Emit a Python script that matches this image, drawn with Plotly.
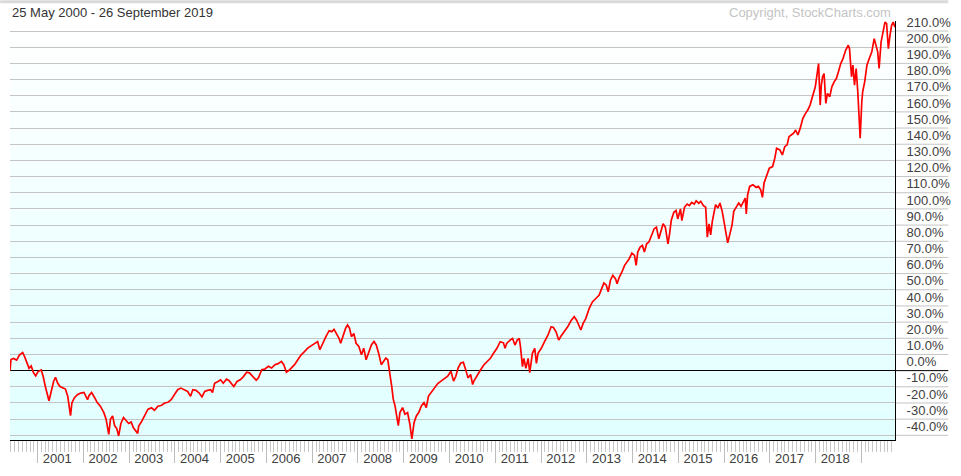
import plotly.graph_objects as go

# ---------------- data ----------------
dates = [
    "2000-05-25", "2000-06-02", "2000-06-21", "2000-07-17", "2000-08-08", "2000-09-03", "2000-09-21",
    "2000-10-08", "2000-10-24", "2000-11-10", "2000-11-28", "2000-12-16",
    "2001-01-04", "2001-01-29", "2001-02-13", "2001-03-03", "2001-03-14", "2001-04-01", "2001-04-19",
    "2001-05-08", "2001-05-23", "2001-06-10", "2001-06-28", "2001-07-19", "2001-08-10", "2001-08-29",
    "2001-09-20", "2001-10-01", "2001-10-20", "2001-11-14", "2001-12-10",
    "2002-01-05", "2002-02-03", "2002-02-14", "2002-03-07", "2002-04-02", "2002-04-20", "2002-05-16",
    "2002-06-13", "2002-07-01", "2002-07-22", "2002-08-05", "2002-08-22", "2002-09-07", "2002-09-25",
    "2002-10-09", "2002-10-27", "2002-11-17", "2002-12-06", "2002-12-28",
    "2003-01-17", "2003-02-04", "2003-03-10", "2003-03-18", "2003-04-08", "2003-05-05", "2003-05-30",
    "2003-06-28", "2003-07-22", "2003-08-18", "2003-09-13", "2003-10-12", "2003-11-06", "2003-12-02",
    "2003-12-28",
    "2004-01-23", "2004-02-18", "2004-03-18", "2004-04-12", "2004-05-05", "2004-05-23", "2004-06-18",
    "2004-07-13", "2004-08-04", "2004-08-26", "2004-09-17", "2004-10-12", "2004-10-27", "2004-11-13",
    "2004-12-10", "2004-12-31",
    "2005-01-21", "2005-02-16", "2005-03-07", "2005-03-24", "2005-04-15", "2005-05-11", "2005-06-06",
    "2005-07-01", "2005-07-27", "2005-08-18", "2005-09-14", "2005-10-11", "2005-10-29", "2005-11-24",
    "2005-12-20",
    "2006-01-16", "2006-02-11", "2006-03-09", "2006-04-04", "2006-04-30", "2006-05-19", "2006-06-09",
    "2006-06-30", "2006-07-18", "2006-08-13", "2006-09-08", "2006-10-05", "2006-10-31", "2006-11-26",
    "2006-12-23",
    "2007-01-18", "2007-02-13", "2007-03-03", "2007-03-25", "2007-04-20", "2007-05-16", "2007-06-06",
    "2007-06-24", "2007-07-13", "2007-08-03", "2007-08-16", "2007-09-03", "2007-09-24", "2007-10-10",
    "2007-10-26", "2007-11-10", "2007-11-29", "2007-12-17",
    "2008-01-08", "2008-01-29", "2008-02-16", "2008-03-06", "2008-03-27", "2008-04-17", "2008-05-08",
    "2008-05-26", "2008-06-14", "2008-07-05", "2008-07-23", "2008-08-10", "2008-08-26", "2008-09-13",
    "2008-09-26", "2008-10-09", "2008-10-23", "2008-11-05", "2008-11-18", "2008-12-01", "2008-12-22",
    "2009-01-10", "2009-01-31", "2009-02-18", "2009-03-06", "2009-03-24", "2009-04-11", "2009-04-30",
    "2009-05-21", "2009-06-11", "2009-06-29", "2009-07-17", "2009-08-07", "2009-09-03", "2009-09-29",
    "2009-10-25", "2009-11-21", "2009-12-17",
    "2010-01-12", "2010-02-02", "2010-02-20", "2010-03-10", "2010-03-31", "2010-04-21", "2010-05-10",
    "2010-05-28", "2010-06-18", "2010-07-04", "2010-07-14", "2010-08-10", "2010-09-05", "2010-10-01",
    "2010-10-27", "2010-11-23", "2010-12-18",
    "2011-01-14", "2011-02-09", "2011-03-07", "2011-03-20", "2011-04-02", "2011-04-29", "2011-05-19",
    "2011-06-07", "2011-06-25", "2011-07-11", "2011-07-21", "2011-08-06", "2011-08-17", "2011-09-02",
    "2011-09-20", "2011-10-03", "2011-10-24", "2011-11-12", "2011-11-25", "2011-12-08",
    "2012-01-03", "2012-01-29", "2012-02-25", "2012-03-22", "2012-04-09", "2012-04-30", "2012-05-21",
    "2012-06-09", "2012-07-05", "2012-08-01", "2012-08-27", "2012-09-22", "2012-10-11", "2012-10-27",
    "2012-11-14", "2012-12-02", "2012-12-23",
    "2013-01-19", "2013-02-14", "2013-03-13", "2013-04-08", "2013-04-29", "2013-05-17", "2013-06-05",
    "2013-06-20", "2013-07-08", "2013-07-27", "2013-08-17", "2013-08-30", "2013-09-17", "2013-10-08",
    "2013-10-29", "2013-11-16", "2013-12-05", "2013-12-26",
    "2014-01-16", "2014-01-29", "2014-02-11", "2014-03-02", "2014-03-20", "2014-04-05", "2014-04-23",
    "2014-05-11", "2014-06-01", "2014-06-22", "2014-07-10", "2014-07-29", "2014-08-13", "2014-09-01",
    "2014-09-19", "2014-10-10", "2014-10-23", "2014-11-05", "2014-11-26", "2014-12-14", "2014-12-27",
    "2015-01-18", "2015-01-29", "2015-02-19", "2015-03-12", "2015-03-30", "2015-04-17", "2015-05-08",
    "2015-05-23", "2015-06-13", "2015-06-29", "2015-07-20", "2015-08-07", "2015-08-20", "2015-09-03",
    "2015-09-16", "2015-09-29", "2015-10-12", "2015-10-25", "2015-11-13", "2015-11-29", "2015-12-17",
    "2015-12-30",
    "2016-01-12", "2016-01-30", "2016-02-15", "2016-03-05", "2016-03-18", "2016-04-09", "2016-04-27",
    "2016-05-15", "2016-06-05", "2016-06-18", "2016-06-26", "2016-07-07", "2016-07-23", "2016-08-18",
    "2016-09-13", "2016-10-01", "2016-10-19", "2016-11-02", "2016-11-15", "2016-12-06", "2016-12-27",
    "2017-01-22", "2017-02-09", "2017-02-23", "2017-03-21", "2017-04-10", "2017-04-29", "2017-05-18",
    "2017-06-02", "2017-06-20", "2017-07-09", "2017-07-25", "2017-08-12", "2017-08-30", "2017-09-21",
    "2017-10-12", "2017-10-30", "2017-11-17", "2017-12-08", "2017-12-29",
    "2018-01-11", "2018-01-24", "2018-02-06", "2018-02-15", "2018-02-25", "2018-03-09", "2018-03-23",
    "2018-04-05", "2018-04-23", "2018-05-10", "2018-05-28", "2018-06-15", "2018-07-01", "2018-07-20",
    "2018-08-07", "2018-08-28", "2018-09-18", "2018-09-28", "2018-10-14", "2018-10-25", "2018-11-07",
    "2018-11-20", "2018-12-03", "2018-12-22",
    "2019-01-04", "2019-01-11", "2019-01-27", "2019-02-14", "2019-03-04", "2019-03-25", "2019-04-13",
    "2019-04-28", "2019-05-11", "2019-05-22", "2019-06-07", "2019-06-20", "2019-07-08", "2019-07-21",
    "2019-08-04", "2019-08-17", "2019-08-30", "2019-09-12", "2019-09-25", "2019-09-26",
]

perf = [
    0.0, 6.9, 7.5, 6.5, 9.6, 11.2, 8.2,
    4.5, 1.4, 2.9, -1.2, -3.3,
    -0.6, 0.4, -3.3, -9.8, -13.9, -18.6, -12.9,
    -6.7, -4.1, -7.8, -9.8, -10.8, -11.4, -15.9,
    -27.8, -20.0, -16.9, -14.9, -13.9,
    -13.5, -18.0, -15.5, -13.5, -16.9, -19.6, -22.0,
    -26.0, -30.0, -39.4, -30.0, -28.0, -34.0, -36.0,
    -40.4, -32.7, -29.0, -31.0, -32.7,
    -31.8, -35.3, -38.8, -34.3, -31.8, -28.0, -24.0,
    -23.0, -24.5, -22.0, -21.6, -20.0, -19.6, -18.0,
    -14.9,
    -11.8, -10.8, -12.2, -12.9, -15.9, -11.8, -12.2,
    -13.9, -16.3, -12.9, -12.2, -11.8, -13.5, -7.8,
    -6.7, -5.7,
    -7.8, -5.3, -6.1, -7.8, -9.8, -6.7, -5.7,
    -3.7, -1.0, -1.4, -3.5, -5.9, -4.5, 0.6,
    1.0,
    2.7, 1.6, 3.7, 4.3, 5.7, 3.7, -1.0,
    0.2, 1.6, 3.7, 6.7, 9.8, 11.8, 13.9,
    15.3,
    16.5, 18.0, 12.9, 16.9, 21.0, 24.7, 24.1,
    25.5, 22.7, 20.0, 16.9, 21.0, 26.1, 28.2,
    26.1, 21.0, 23.0, 16.9,
    14.9, 9.8, 13.9, 6.7, 11.8, 15.9, 18.0,
    15.9, 10.8, 3.7, 5.7, 7.8, 6.7, -1.4,
    -9.6, -17.8, -21.8, -28.0, -34.0, -25.9, -22.9,
    -26.9, -25.9, -33.0, -42.2, -32.0, -28.0, -25.9,
    -21.8, -19.8, -22.9, -15.7, -13.7, -10.6, -8.0,
    -6.5, -5.1, -3.5,
    -0.4, -6.5, -3.5, 1.6, 4.7, 5.1, 0.6,
    -4.5, -2.4, -8.6, -6.5, -2.7, 0.4, 3.5,
    5.5, 7.6, 10.7,
    13.8, 17.9, 17.2, 13.8, 16.8, 18.9, 19.9,
    15.8, 18.9, 19.9, 14.8, 2.5, 7.6, 1.4,
    7.6, -1.2, 10.7, 13.8, 4.5, 10.7,
    13.8, 17.9, 22.0, 27.1, 26.7, 24.0, 18.9,
    21.4, 24.0, 27.1, 30.8, 33.3, 31.2, 28.1,
    25.1, 29.2, 32.2,
    38.4, 42.5, 44.6, 46.6, 50.7, 54.2, 52.8,
    48.7, 55.9, 58.9, 56.9, 53.8, 57.9, 61.0,
    65.1, 67.1, 69.2, 72.7,
    71.3, 65.1, 73.3, 76.4, 77.4, 73.3, 78.4,
    79.5, 83.6, 87.7, 88.7, 81.5, 85.6, 90.8,
    88.7, 78.4, 84.6, 92.8, 97.9, 99.0, 93.8,
    100.0, 92.8, 101.0, 103.0, 102.0, 104.0, 103.0,
    105.0, 103.5, 104.7, 102.0, 101.0, 82.5, 90.8,
    84.0, 92.3, 98.5, 102.6, 100.6, 103.6, 98.5,
    92.3,
    86.2, 79.0, 84.1, 90.3, 98.5, 101.6, 103.6,
    101.6, 104.7, 106.7, 96.9, 108.8, 113.9, 114.9,
    113.3, 113.9, 111.8, 107.1, 116.0, 121.1, 125.2,
    126.2, 131.4, 137.5, 136.5, 133.4, 138.5, 139.6,
    144.7, 145.7, 146.8, 148.8, 145.7, 149.8, 156.0,
    159.1, 161.1, 164.2, 170.4, 175.5,
    182.7, 189.9, 164.2, 176.5, 181.7, 183.7, 165.2,
    171.4, 169.3, 175.5, 178.6, 180.6, 184.7, 189.9,
    192.9, 198.1, 201.2, 199.1, 181.7, 188.9, 176.5,
    186.8, 172.4, 143.7,
    166.3, 172.4, 178.6, 188.9, 192.9, 197.1, 205.3,
    200.1, 197.1, 186.8, 203.2, 208.4, 215.5, 214.5,
    199.1, 207.3, 213.5, 215.5, 212.5, 213.0,
]

y_ticks = list(range(-40, 211, 10))
y_labels = [f"{v:.1f}%" for v in y_ticks]
year_tick_dates = [f"{y}-01-01" for y in range(2001, 2020)]
year_label_dates = [f"{y}-06-06" for y in range(2001, 2019)]
year_labels = [str(y) for y in range(2001, 2019)]
title_text = "25 May 2000 - 26 September 2019"
copyright_text = "Copyright, StockCharts.com"

# ---------------- layout constants ----------------
W, H = 961, 476
ML, MR, MT, MB = 10, 54, 21, 32
Y_RANGE = [-42.9, 216.2]
LABEL_SHIFT = 5.5          # tick labels sit above their grid line
FONT = "Liberation Sans, Arial, sans-serif"
GRID = "#c4c4c4"

fig = go.Figure()
fig.add_trace(go.Scatter(x=dates, y=perf, mode="lines",
                         line=dict(color="#ff0000", width=1.7),
                         hoverinfo="skip", showlegend=False))
# helper (empty) trace so the overlay label axes render
fig.add_trace(go.Scatter(x=[dates[0]], y=[None], xaxis="x2", yaxis="y2",
                         mode="lines", showlegend=False, hoverinfo="skip"))

shapes = []
# vertical gradient background: white at top to light cyan at bottom
n_bands = 40
top_c = (255, 255, 255)
bot_c = (225, 255, 255)
for i in range(n_bands):
    f = i / (n_bands - 1)
    c = tuple(round(bot_c[k] + (top_c[k] - bot_c[k]) * f) for k in range(3))
    shapes.append(dict(type="rect", xref="paper", yref="paper",
                       x0=0, x1=1, y0=i / n_bands, y1=(i + 1) / n_bands,
                       fillcolor=f"rgb{c}", line=dict(width=0), layer="below"))
# grid lines continue under the right-hand labels
ext = (W - ML) / (W - ML - MR)
for v in y_ticks:
    shapes.append(dict(type="line", xref="paper", yref="y", x0=1, x1=ext, y0=v, y1=v,
                       line=dict(color="#000000" if v == 0 else GRID, width=1),
                       layer="below"))
# grey strip at very top
ph = H - MT - MB
shapes.append(dict(type="rect", xref="paper", yref="paper",
                   x0=-ML / (W - ML - MR), x1=ext, y0=1 + (MT - 3) / ph, y1=1 + MT / ph,
                   fillcolor="#dadada", line=dict(width=0), layer="below"))

fig.update_layout(
    width=W, height=H,
    margin=dict(l=ML, r=MR, t=MT, b=MB, pad=0),
    paper_bgcolor="#ffffff", plot_bgcolor="#ffffff",
    showlegend=False,
    font=dict(family=FONT, size=13, color="#404040"),
    shapes=shapes,
    xaxis=dict(
        type="date", range=[dates[0], dates[-1]],
        showgrid=False, zeroline=False,
        showline=True, linecolor="#000000", linewidth=1,
        tickmode="array", tickvals=year_tick_dates, showticklabels=False,
        ticks="outside", ticklen=22, tickwidth=1, tickcolor="#bdbdbd",
        minor=dict(ticks="outside", ticklen=11, tickwidth=1, tickcolor="#c8c8c8",
                   dtick="M1", tick0="2000-01-01", showgrid=False),
        fixedrange=True,
    ),
    xaxis2=dict(
        type="date", range=[dates[0], dates[-1]], overlaying="x", anchor="y", side="bottom",
        showgrid=False, zeroline=False, showline=False,
        tickmode="array", tickvals=year_label_dates, ticktext=year_labels,
        ticks="outside", ticklen=6, tickcolor="rgba(0,0,0,0)",
        tickfont=dict(family=FONT, size=13, color="#404040"),
        fixedrange=True,
    ),
    yaxis=dict(
        range=Y_RANGE, side="right",
        tickmode="array", tickvals=y_ticks, showticklabels=False, ticks="",
        showgrid=True, gridcolor=GRID, gridwidth=1,
        zeroline=True, zerolinecolor="#000000", zerolinewidth=1,
        showline=True, linecolor="#000000", linewidth=1,
        fixedrange=True,
    ),
    yaxis2=dict(
        range=[Y_RANGE[0] - LABEL_SHIFT, Y_RANGE[1] - LABEL_SHIFT],
        overlaying="y", anchor="x", side="right",
        tickmode="array", tickvals=y_ticks, ticktext=y_labels,
        ticks="outside", ticklen=8, tickcolor="rgba(0,0,0,0)",
        showgrid=False, zeroline=False, showline=False,
        tickfont=dict(family=FONT, size=13, color="#404040"),
        fixedrange=True,
    ),
    annotations=[
        dict(text=title_text, xref="paper", yref="paper", x=0, y=1 + 9 / ph,
             xanchor="left", yanchor="middle", showarrow=False,
             font=dict(family=FONT, size=13, color="#333333")),
        dict(text=copyright_text, xref="paper", yref="paper", x=(905 - ML) / (W - ML - MR),
             y=1 + 9 / ph, xanchor="right", yanchor="middle", showarrow=False,
             font=dict(family=FONT, size=13, color="#c4c4c4")),
    ],
)

fig.write_html("out.html", config={"displayModeBar": False})
